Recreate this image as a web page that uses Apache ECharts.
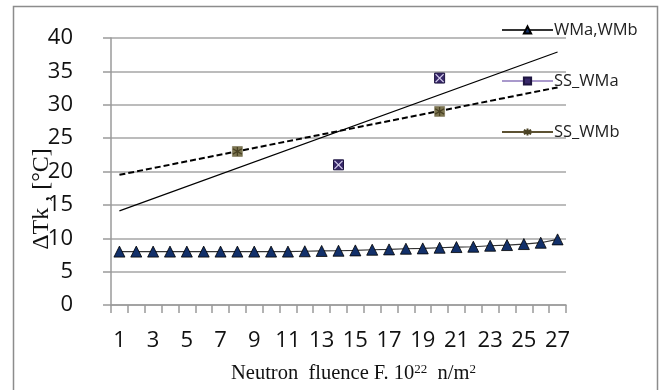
<!DOCTYPE html>
<html>
<head>
<meta charset="utf-8">
<script src="https://cdn.jsdelivr.net/npm/echarts@6/dist/echarts.min.js"></script>
<style>
  html, body { margin: 0; padding: 0; background: #fff; }
  #chart { width: 659px; height: 390px; }
</style>
</head>
<body>
<div id="chart"></div>
<script>
// Neutron fluence categories (x 10^22 n/m^2)
const fluence = [1,2,3,4,5,6,7,8,9,10,11,12,13,14,15,16,17,18,19,20,21,22,23,24,25,26,27];

// Transition temperature shift, weld metals a and b
const wmValues = [8.0,8.0,8.0,8.0,8.0,8.0,8.0,8.0,8.0,8.0,8.0,8.05,8.1,8.13,8.18,8.28,8.33,8.43,8.48,8.58,8.68,8.73,8.88,8.98,9.13,9.33,9.83];

// Surveillance specimens (fluence, shift)
const ssWMaPoints = [[14, 21], [20, 34]];
const ssWMbPoints = [[8, 23], [20, 29]];

// Linear trend lines, values at first and last fluence
const trendWMa = [14.1, 37.9];
const trendWMb = [19.5, 32.6];

const yTicks = { min: 0, max: 40, step: 5 };

function sparse(points) {
  const arr = fluence.map(() => null);
  points.forEach(([f, v]) => { arr[fluence.indexOf(f)] = v; });
  return arr;
}
function ends(pair) {
  const arr = fluence.map(() => null);
  arr[0] = pair[0];
  arr[arr.length - 1] = pair[1];
  return arr;
}

const starPath = 'path://M5,0 L5,10 M0,2 L10,8 M0,8 L10,2';
const crossPath = 'path://M0,0 L10,10 M10,0 L0,10';
const labelFont = 'Open Sans';

const chart = echarts.init(document.getElementById('chart'), null, { renderer: 'canvas' });
chart.setOption({
  animation: false,
  backgroundColor: '#fff',
  grid: { left: 111, right: 93, top: 38, bottom: 85, containLabel: false },
  legend: {
    orient: 'vertical',
    left: 496,
    top: 15,
    itemWidth: 51,
    itemHeight: 9,
    itemGap: 31,
    textStyle: { fontFamily: labelFont, fontSize: 16.5, color: '#222', padding: [0, 0, 0, -4], lineHeight: 20 },
    data: [
      { name: 'WMa,WMb' },
      { name: 'SS_WMa' },
      { name: 'SS_WMb' }
    ]
  },
  xAxis: {
    type: 'category',
    data: fluence,
    boundaryGap: true,
    axisLine: { lineStyle: { color: '#9a9a9a', width: 1.5 } },
    axisTick: { show: true, interval: 0, length: 8, lineStyle: { color: '#9a9a9a', width: 1.5 } },
    axisLabel: { interval: 1, margin: 25, fontFamily: labelFont, fontSize: 22, color: '#111' },
    splitLine: { show: false },
    name: 'Neutron  fluence F. 10{sup|22}  n/m{sup|2}',
    nameLocation: 'middle',
    nameGap: 58,
    nameTextStyle: {
      fontFamily: 'Liberation Serif', fontSize: 20.5, color: '#111', padding: [0, 0, 0, 30],
      rich: { sup: { fontFamily: 'Liberation Serif', fontSize: 13, verticalAlign: 'top', padding: [0, 0, 8, 0], color: '#111' } }
    }
  },
  yAxis: {
    type: 'value',
    min: yTicks.min,
    max: yTicks.max,
    interval: yTicks.step,
    axisLine: { show: true, lineStyle: { color: '#9a9a9a', width: 1.5 } },
    axisTick: { show: true, length: 8, lineStyle: { color: '#9a9a9a', width: 1.5 } },
    axisLabel: { margin: 38, fontFamily: labelFont, fontSize: 22, color: '#111' },
    splitLine: { show: true, lineStyle: { color: '#a6a6a6', width: 1.5 } }
  },
  graphic: [
    {
      type: 'rect', left: 11, top: 4, silent: true,
      shape: { width: 644, height: 385 },
      style: { fill: 'none', stroke: '#8c8c8c', lineWidth: 1.5 }
    },
    {
      type: 'text', x: 42, y: 199, rotation: Math.PI / 2, silent: true,
      style: { text: 'ΔTk , [°C]', fontFamily: 'Liberation Serif', fontSize: 24, fill: '#111', align: 'center', verticalAlign: 'middle' }
    }
  ],
  series: [
    {
      name: 'trend SS_WMa', type: 'line', data: ends(trendWMa), connectNulls: true,
      symbol: 'none', lineStyle: { color: '#000', width: 1.2 }, z: 3
    },
    {
      name: 'trend SS_WMb', type: 'line', data: ends(trendWMb), connectNulls: true,
      symbol: 'none', lineStyle: { color: '#000', width: 2, type: [6, 3] }, z: 3
    },
    {
      name: 'WMa,WMb', type: 'line', data: wmValues,
      symbol: 'triangle', symbolSize: 11,
      lineStyle: { color: '#333', width: 1.2 },
      itemStyle: { color: '#12306a', borderColor: '#000', borderWidth: 0.8 }, z: 4
    },
    {
      name: 'SS_WMa', type: 'line', data: sparse(ssWMaPoints), connectNulls: false,
      symbol: 'rect', symbolSize: 10,
      lineStyle: { color: '#a999cc', width: 1.5 },
      itemStyle: { color: '#38286a', borderColor: '#1e1540', borderWidth: 1 }, z: 5
    },
    {
      name: 'SS_WMa cross', type: 'line', data: sparse(ssWMaPoints), connectNulls: false,
      symbol: crossPath, symbolSize: 8, lineStyle: { width: 0 },
      itemStyle: { color: 'none', borderColor: '#d9d2f0', borderWidth: 1.2 }, z: 6
    },
    {
      name: 'SS_WMb box', type: 'line', data: sparse(ssWMbPoints), connectNulls: false,
      symbol: 'rect', symbolSize: 10, lineStyle: { width: 0 },
      itemStyle: { color: '#7d7651', borderColor: '#6a6340', borderWidth: 0.5 }, z: 5
    },
    {
      name: 'SS_WMb', type: 'line', data: sparse(ssWMbPoints), connectNulls: false,
      symbol: starPath, symbolSize: 9,
      lineStyle: { color: '#5c5132', width: 1.5 },
      itemStyle: { color: 'none', borderColor: '#4a4224', borderWidth: 1.3 }, z: 6
    }
  ]
});
</script>
</body>
</html>
